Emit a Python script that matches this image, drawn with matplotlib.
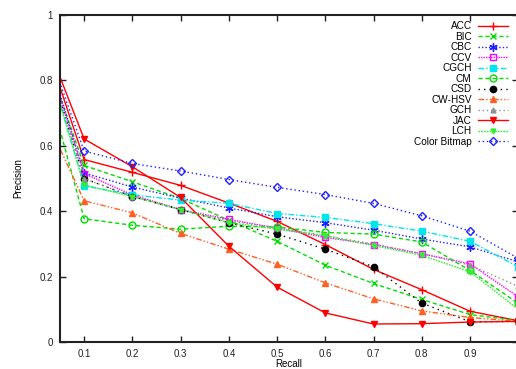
import numpy as np
import matplotlib
matplotlib.use("Agg")
import matplotlib.pyplot as plt

plt.rcParams['font.family'] = ['Liberation Sans', 'DejaVu Sans']

# recall points (first point lies left of the visible range, as in the original plot)
recall = [0.0, 0.1, 0.2, 0.3, 0.4, 0.5, 0.6, 0.7, 0.8, 0.9, 1.0]

acc = [1.00, 0.558, 0.519, 0.479, 0.425, 0.369, 0.298, 0.222, 0.160, 0.094, 0.065]
bic = [0.96, 0.540, 0.490, 0.439, 0.372, 0.308, 0.235, 0.179, 0.130, 0.084, 0.065]
cbc = [1.00, 0.517, 0.474, 0.440, 0.410, 0.383, 0.365, 0.342, 0.315, 0.291, 0.245]
ccv = [0.98, 0.515, 0.450, 0.405, 0.375, 0.348, 0.320, 0.298, 0.270, 0.239, 0.138]
cgch = [0.98, 0.478, 0.450, 0.434, 0.424, 0.393, 0.381, 0.362, 0.339, 0.308, 0.230]
cm = [0.92, 0.377, 0.357, 0.345, 0.354, 0.352, 0.335, 0.330, 0.306, 0.219, 0.118]
csd = [0.98, 0.500, 0.445, 0.405, 0.365, 0.330, 0.284, 0.230, 0.119, 0.062, 0.063]
cwhsv = [0.75, 0.432, 0.395, 0.332, 0.284, 0.238, 0.181, 0.132, 0.095, 0.075, 0.063]
gch = [0.98, 0.500, 0.445, 0.405, 0.370, 0.350, 0.325, 0.300, 0.270, 0.235, 0.170]
jac = [1.00, 0.621, 0.536, 0.442, 0.293, 0.168, 0.089, 0.055, 0.056, 0.061, 0.063]
lch = [0.98, 0.480, 0.445, 0.405, 0.365, 0.345, 0.325, 0.295, 0.265, 0.215, 0.100]
bitmap = [1.00, 0.584, 0.546, 0.523, 0.497, 0.473, 0.451, 0.424, 0.386, 0.339, 0.256]

series = [
    ("ACC", acc, dict(color="#ff0000", ls="-", marker="+", ms=6, mfc="none")),
    ("BIC", bic, dict(color="#00dd00", ls=(0, (3, 2)), marker="x", ms=5, mfc="none")),
    ("CBC", cbc, dict(color="#2020ff", ls=(0, (1, 1.5)), marker=(6, 2, 0), ms=6)),
    ("CCV", ccv, dict(color="#ff00ff", ls=(0, (1, 0.8)), marker="s", ms=5, mfc="none")),
    ("CGCH", cgch, dict(color="#00e5ee", ls=(0, (4, 1.5, 1, 1.5)), marker="s", ms=5)),
    ("CM", cm, dict(color="#00dd00", ls=(0, (3, 2)), marker="o", ms=5, mfc="none")),
    ("CSD", csd, dict(color="#000000", ls=(0, (1, 3)), marker="o", ms=4.5)),
    ("CW-HSV", cwhsv, dict(color="#ff6020", ls=(0, (4, 1.5, 1, 1.5, 1, 1.5)), marker="^", ms=5)),
    ("GCH", gch, dict(color="#909090", ls=(0, (1, 2)), marker="^", ms=3.5)),
    ("JAC", jac, dict(color="#ff0000", ls="-", marker="v", ms=5)),
    ("LCH", lch, dict(color="#33ee33", ls=(0, (1.2, 0.8)), marker="v", ms=3.5)),
    ("Color Bitmap", bitmap, dict(color="#2020ff", ls=(0, (1, 2)), marker="D", ms=4, mfc="none")),
]

fig = plt.figure(figsize=(5.16, 3.69), dpi=100)
ax = fig.add_axes([0.1163, 0.0732, 0.888, 0.886])

for name, vals, st in series:
    ax.plot(recall, vals, label=name, lw=1.0, mew=1.0, **st)

ax.set_xlim(0.05, 1.0)
ax.set_ylim(0, 1)
ax.set_xticks([0.1, 0.2, 0.3, 0.4, 0.5, 0.6, 0.7, 0.8, 0.9])
ax.set_xticklabels(["0.1", "0.2", "0.3", "0.4", "0.5", "0.6", "0.7", "0.8", "0.9"])
ax.set_yticks([0, 0.2, 0.4, 0.6, 0.8, 1.0])
ax.set_yticklabels(["0", "0.2", "0.4", "0.6", "0.8", "1"])
ax.tick_params(direction="in", length=4, width=1, top=True, right=True,
               labelsize=7, pad=5, colors="#222222")
for s in ax.spines.values():
    s.set_linewidth(1.5)
    s.set_color("#222222")

ax.set_xlabel("Recall", fontsize=7, labelpad=0)
ax.set_ylabel("Precision", fontsize=7, labelpad=12)

ax.legend(loc="upper right", bbox_to_anchor=(0.99, 1.0), frameon=False,
          markerfirst=False, fontsize=7.2, handlelength=3.0, handletextpad=0.6,
          labelspacing=0.05, borderaxespad=0.2)

fig.savefig("out.png", dpi=100)
